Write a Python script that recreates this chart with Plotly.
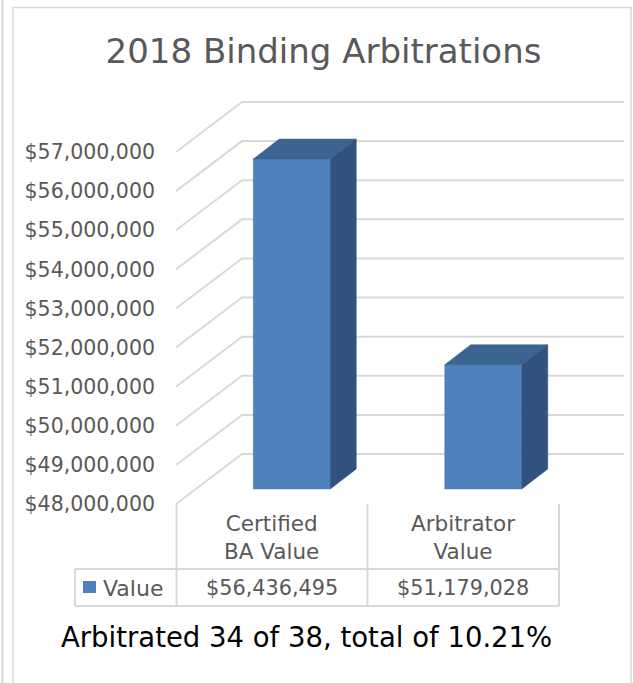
import plotly.graph_objects as go
import numpy as np

# ---------------- data ----------------
title_text = "2018 Binding Arbitrations"
footer_text = "Arbitrated 34 of 38, total of 10.21%"
series_name = "Value"
categories = ["Certified<br>BA Value", "Arbitrator<br>Value"]
values = [56436495, 51179028]
value_labels = ["$56,436,495", "$51,179,028"]
tick_values = [48e6, 49e6, 50e6, 51e6, 52e6, 53e6, 54e6, 55e6, 56e6, 57e6]
tick_labels = ["$48,000,000", "$49,000,000", "$50,000,000", "$51,000,000",
               "$52,000,000", "$53,000,000", "$54,000,000", "$55,000,000",
               "$56,000,000", "$57,000,000"]

# ---------------- geometry / style ----------------
W, H = 633, 683
ML, MR, MT, MB = 176, 8, 100, 179
PW, PH = W - ML - MR, H - MT - MB
COL_PX = 191.5           # pixels per category
PX_PER_M = 39.11         # pixels per $1,000,000 on the front plane
YMIN = 48e6
xr = [-0.5, -0.5 + PW / COL_PX]
yr = [YMIN, YMIN + PH / PX_PER_M * 1e6]

def dx(px):
    return px / COL_PX

def dy(px):
    return px / PX_PER_M * 1e6

DEPTH_X, DEPTH_Y = dx(66), dy(50)
BAR_W = dx(77)
BAR_DX, BAR_DY = dx(26), dy(20)
OFF_X, OFF_Y = dx(20), dy(15)

GRID = "#d9d9d9"
TXT = "#595959"
FRONT = "#4f81bd"
TOP = "#3c6491"
SIDE = "#30527d"
FONT = "DejaVu Sans"

def pxx(px):  # pixel -> paper x
    return (px - ML) / PW

def pxy(py):  # pixel -> paper y
    return (MT + PH - py) / PH

fig = go.Figure()

# gridlines: left side-wall diagonals + back wall
for v in tick_values:
    x0 = xr[0]
    fig.add_trace(go.Scatter(
        x=[x0, x0 + DEPTH_X, xr[1] - 0.005],
        y=[v, v + DEPTH_Y, v + DEPTH_Y],
        mode="lines", line=dict(color=GRID, width=2),
        hoverinfo="skip", showlegend=False))

# 3D bars
for i, v in enumerate(values):
    xl = i + OFF_X - BAR_W / 2
    xrr = i + OFF_X + BAR_W / 2
    yb = YMIN + OFF_Y
    yt = v + OFF_Y
    # front
    fig.add_trace(go.Scatter(
        x=[xl, xrr, xrr, xl, xl], y=[yb, yb, yt, yt, yb],
        fill="toself", fillcolor=FRONT, mode="lines",
        line=dict(color=FRONT, width=0.5), hoverinfo="skip", showlegend=False))
    # top
    fig.add_trace(go.Scatter(
        x=[xl, xrr, xrr + BAR_DX, xl + BAR_DX, xl],
        y=[yt, yt, yt + BAR_DY, yt + BAR_DY, yt],
        fill="toself", fillcolor=TOP, mode="lines",
        line=dict(color=TOP, width=0.5), hoverinfo="skip", showlegend=False))
    # side
    fig.add_trace(go.Scatter(
        x=[xrr, xrr + BAR_DX, xrr + BAR_DX, xrr, xrr],
        y=[yb, yb + BAR_DY, yt + BAR_DY, yt, yb],
        fill="toself", fillcolor=SIDE, mode="lines",
        line=dict(color=SIDE, width=0.5), hoverinfo="skip", showlegend=False))

shapes = []
# outer frames
shapes.append(dict(type="line", xref="paper", yref="paper",
                   x0=pxx(2.5), x1=pxx(2.5), y0=pxy(0), y1=pxy(H),
                   line=dict(color=GRID, width=2)))
shapes.append(dict(type="rect", xref="paper", yref="paper",
                   x0=pxx(13), x1=pxx(631), y0=pxy(7.5), y1=pxy(H + 5),
                   line=dict(color=GRID, width=1.5)))
# data table lines
t_top, t_mid, t_bot = 504, 569, 606
xcol = [ML + 0.5, ML + COL_PX, ML + 2 * COL_PX]
shapes.append(dict(type="line", xref="paper", yref="paper",
                   x0=pxx(75), x1=pxx(xcol[2]), y0=pxy(t_mid), y1=pxy(t_mid),
                   line=dict(color=GRID, width=2)))
shapes.append(dict(type="line", xref="paper", yref="paper",
                   x0=pxx(75), x1=pxx(xcol[2]), y0=pxy(t_bot), y1=pxy(t_bot),
                   line=dict(color=GRID, width=2)))
shapes.append(dict(type="line", xref="paper", yref="paper",
                   x0=pxx(75), x1=pxx(75), y0=pxy(t_mid), y1=pxy(t_bot),
                   line=dict(color=GRID, width=2)))
for xc in xcol:
    shapes.append(dict(type="line", xref="paper", yref="paper",
                       x0=pxx(xc), x1=pxx(xc), y0=pxy(t_top), y1=pxy(t_bot),
                       line=dict(color=GRID, width=2)))
# legend key
shapes.append(dict(type="rect", xref="paper", yref="paper",
                   x0=pxx(83), x1=pxx(96), y0=pxy(581), y1=pxy(593),
                   fillcolor=FRONT, line=dict(width=0)))

annotations = []
for i, (c, lab) in enumerate(zip(categories, value_labels)):
    annotations.append(dict(x=i, y=pxy(537.5), xref="x", yref="paper",
                            text=c, showarrow=False,
                            font=dict(family=FONT, size=21.5, color=TXT),
                            xanchor="center", yanchor="middle"))
    annotations.append(dict(x=i, y=pxy(588), xref="x", yref="paper",
                            text=lab, showarrow=False,
                            font=dict(family=FONT, size=20.8, color=TXT),
                            xanchor="center", yanchor="middle"))
annotations.append(dict(x=pxx(101), y=pxy(588), xref="paper", yref="paper",
                        text=series_name, showarrow=False,
                        font=dict(family=FONT, size=22, color=TXT),
                        xanchor="left", yanchor="middle"))
annotations.append(dict(x=pxx(306), y=pxy(637), xref="paper", yref="paper",
                        text=footer_text, showarrow=False,
                        font=dict(family=FONT, size=27.5, color="#000000"),
                        xanchor="center", yanchor="middle"))

fig.update_layout(
    width=W, height=H,
    margin=dict(l=ML, r=MR, t=MT, b=MB, pad=0),
    paper_bgcolor="white", plot_bgcolor="white",
    title=dict(text=title_text, x=(323.5) / W, xanchor="center",
               y=1 - 51 / H, yanchor="middle",
               font=dict(family=FONT, size=34, color=TXT)),
    xaxis=dict(range=xr, visible=False, fixedrange=True),
    yaxis=dict(range=yr, showgrid=False, zeroline=False, showline=False,
               tickvals=tick_values, ticktext=tick_labels, ticks="",
               ticklabelstandoff=20,
               tickfont=dict(family=FONT, size=20.5, color=TXT),
               fixedrange=True),
    shapes=shapes, annotations=annotations, showlegend=False,
)

fig.write_html("out.html", config={"displayModeBar": False},
               post_script="document.body.style.margin='0';document.body.style.overflow='hidden';")
